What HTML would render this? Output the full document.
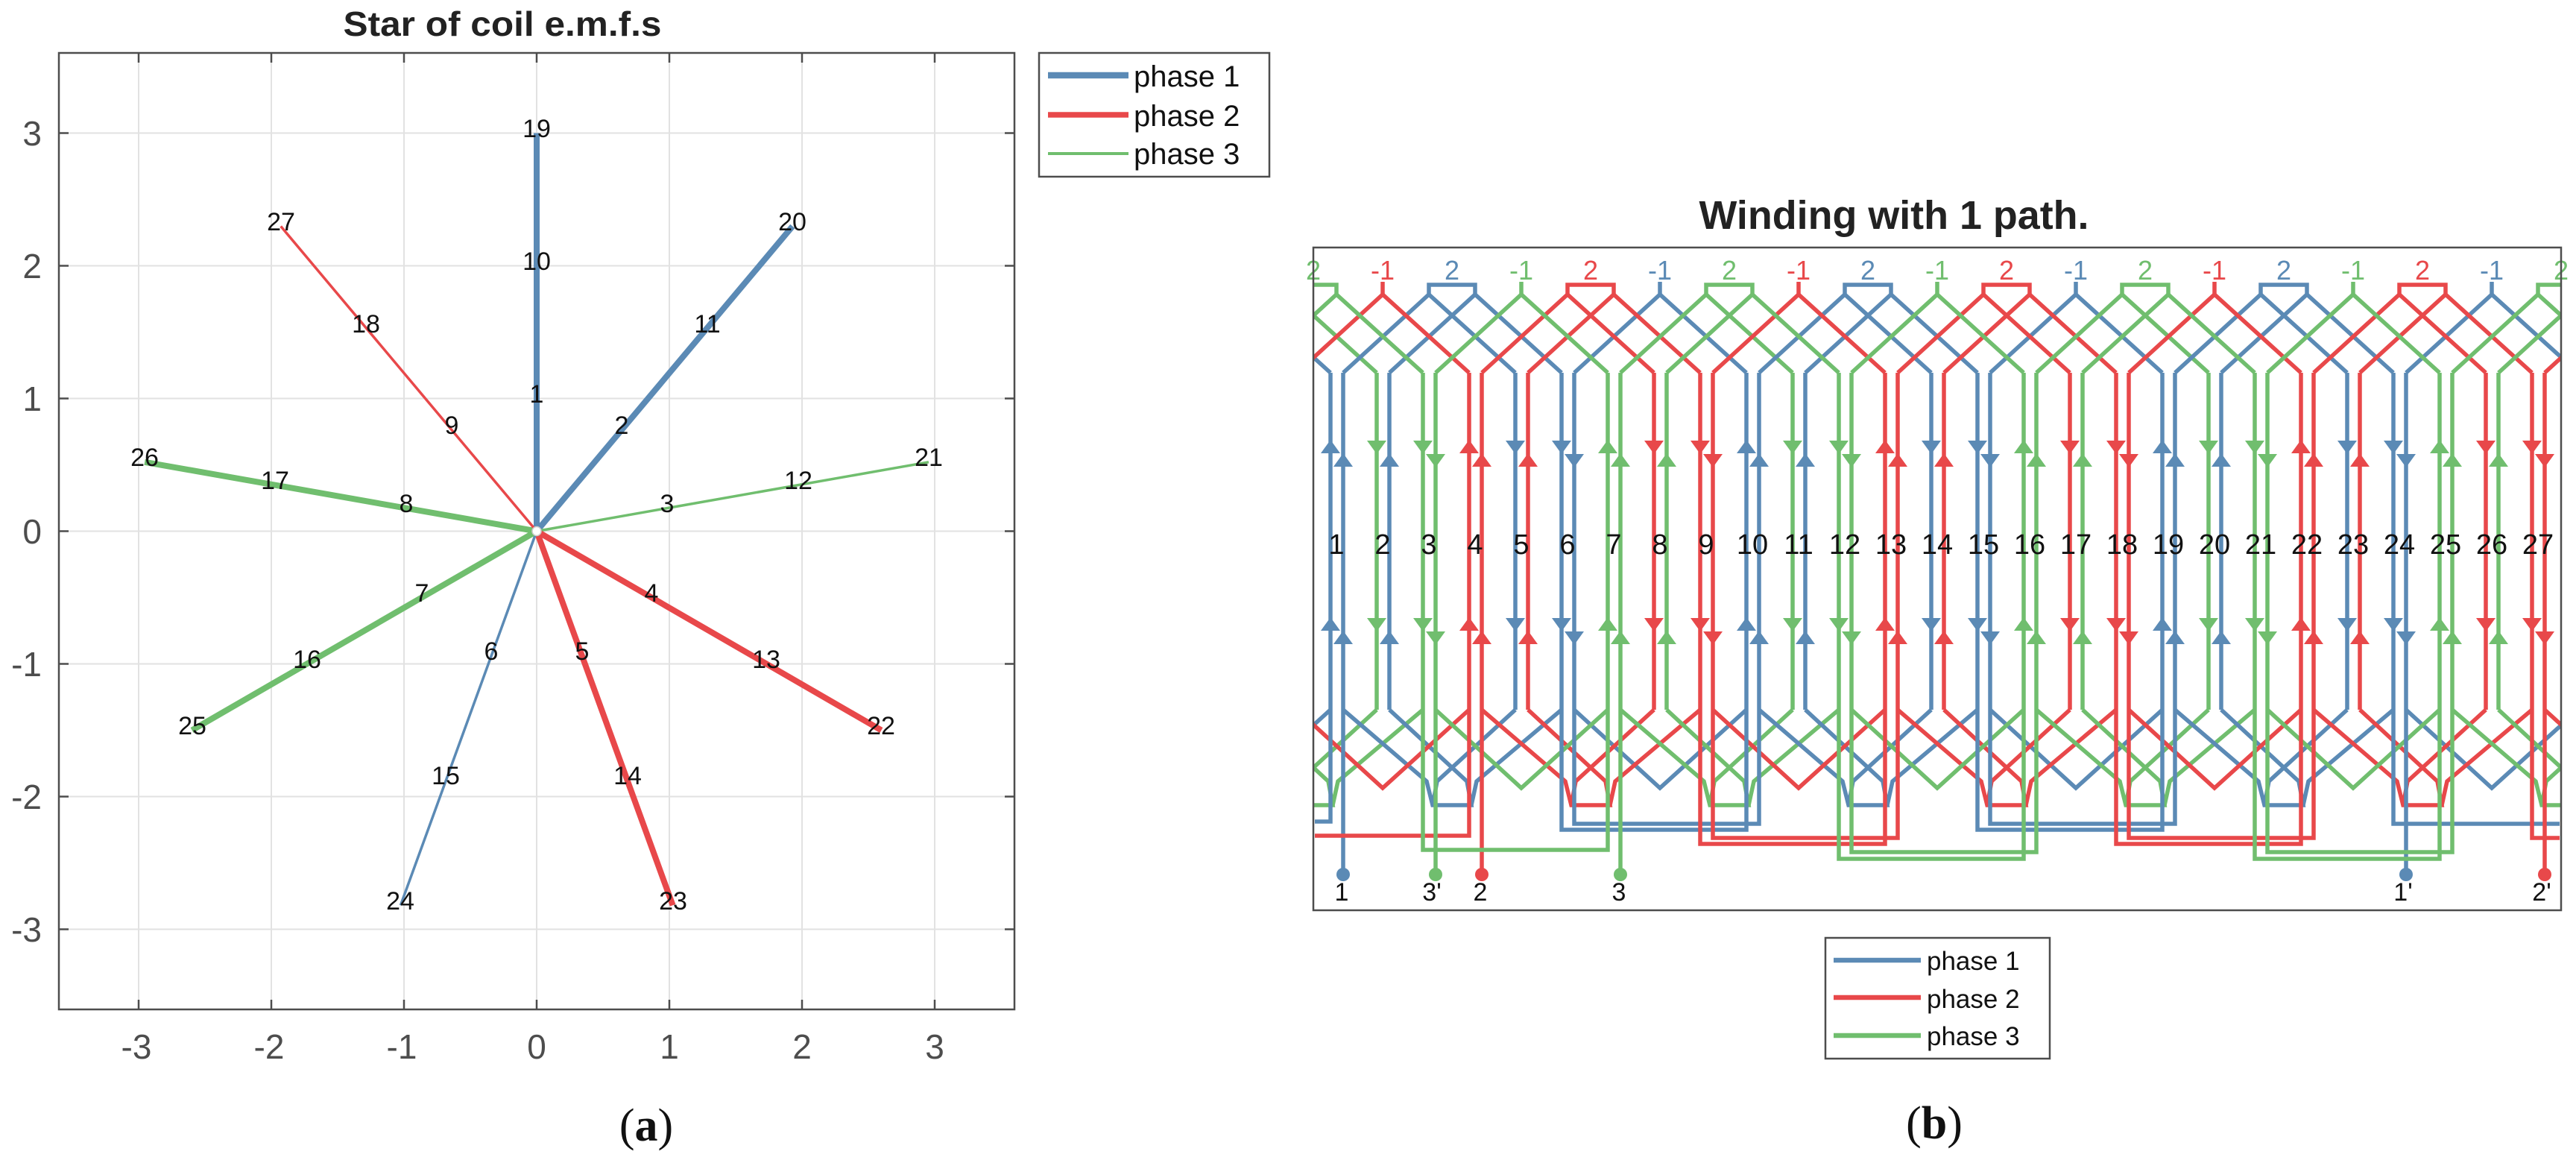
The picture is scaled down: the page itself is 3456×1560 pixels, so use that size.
<!DOCTYPE html>
<html><head><meta charset="utf-8"><style>
html,body{margin:0;padding:0;background:#fff}
svg{display:block}
text{font-family:"Liberation Sans",sans-serif}
</style></head><body>
<svg width="3456" height="1560" viewBox="0 0 3456 1560" xmlns="http://www.w3.org/2000/svg">
<defs>
<clipPath id="ax"><rect x="79" y="71" width="1282" height="1283"/></clipPath>
<clipPath id="wb"><rect x="1762" y="332" width="1674" height="889"/></clipPath>
<path id="au" d="M0,0 L-13,18 L13,18Z"/>
<path id="ad" d="M0,18 L-13,0 L13,0Z"/>
<g id="grp" fill="none" stroke-width="5.5" stroke-linejoin="miter">
 <g stroke="#5b8ab5">
  <path d="M1785,500V952 M1802,500V952 M1864,500V952 M2033,500V952 M2095,500V952 M2112,500V952"/>
  <path d="M1802,500 L1917,395 L2033,500 M1864,500 L1979,395 L2095,500 M2112,500 L2227,395 L2343,500"/>
  <path d="M1917,395V382H1979V395 M2227,395V378"/>
  <path d="M1802,952 L1914,1048 L1922,1080 L1974,1080 L1968,1048 L1864,952 M2033,952 L1928,1048 L1922,1080 M2095,952 L1981,1048 L1974,1080 M2112,952 L2227,1057 L2343,952"/>
 </g>
 <g stroke="#e8484a">
  <path d="M1971,500V952 M1988,500V952 M2050,500V952 M2219,500V952 M2281,500V952 M2298,500V952"/>
  <path d="M1740,500 L1855,395 L1971,500 M1988,500 L2103,395 L2219,500 M2050,500 L2165,395 L2281,500"/>
  <path d="M2103,395V382H2165V395 M1855,395V378"/>
  <path d="M1740,952 L1855,1057 L1971,952 M1988,952 L2100,1048 L2108,1080 L2160,1080 L2154,1048 L2050,952 M2219,952 L2114,1048 L2108,1080 M2281,952 L2167,1048 L2160,1080"/>
 </g>
 <g stroke="#70be6e">
  <path d="M1847,500V952 M1909,500V952 M1926,500V952 M2157,500V952 M2174,500V952 M2236,500V952"/>
  <path d="M1678,500 L1793,395 L1909,500 M1926,500 L2041,395 L2157,500 M2174,500 L2289,395 L2405,500"/>
  <path d="M2289,395V382H2351V395 M2041,395V378"/>
  <path d="M1926,952 L2041,1057 L2157,952 M2174,952 L2286,1048 L2294,1080 L2346,1080 L2340,1048 L2236,952 M2405,952 L2300,1048 L2294,1080 M2467,952 L2353,1048 L2346,1080"/>
 </g>
 <g stroke="none">
  <use href="#au" x="1785" y="590" fill="#5b8ab5"/><use href="#au" x="1802" y="608" fill="#5b8ab5"/>
  <use href="#ad" x="1847" y="591" fill="#70be6e"/><use href="#au" x="1864" y="608" fill="#5b8ab5"/>
  <use href="#ad" x="1909" y="591" fill="#70be6e"/><use href="#ad" x="1926" y="609" fill="#70be6e"/>
  <use href="#au" x="1971" y="590" fill="#e8484a"/><use href="#au" x="1988" y="608" fill="#e8484a"/>
  <use href="#ad" x="2033" y="591" fill="#5b8ab5"/><use href="#au" x="2050" y="608" fill="#e8484a"/>
  <use href="#ad" x="2095" y="591" fill="#5b8ab5"/><use href="#ad" x="2112" y="609" fill="#5b8ab5"/>
  <use href="#au" x="2157" y="590" fill="#70be6e"/><use href="#au" x="2174" y="608" fill="#70be6e"/>
  <use href="#ad" x="2219" y="591" fill="#e8484a"/><use href="#au" x="2236" y="608" fill="#70be6e"/>
  <use href="#ad" x="2281" y="591" fill="#e8484a"/><use href="#ad" x="2298" y="609" fill="#e8484a"/>

  <use href="#au" x="1785" y="828" fill="#5b8ab5"/><use href="#au" x="1802" y="846" fill="#5b8ab5"/>
  <use href="#ad" x="1847" y="829" fill="#70be6e"/><use href="#au" x="1864" y="846" fill="#5b8ab5"/>
  <use href="#ad" x="1909" y="829" fill="#70be6e"/><use href="#ad" x="1926" y="847" fill="#70be6e"/>
  <use href="#au" x="1971" y="828" fill="#e8484a"/><use href="#au" x="1988" y="846" fill="#e8484a"/>
  <use href="#ad" x="2033" y="829" fill="#5b8ab5"/><use href="#au" x="2050" y="846" fill="#e8484a"/>
  <use href="#ad" x="2095" y="829" fill="#5b8ab5"/><use href="#ad" x="2112" y="847" fill="#5b8ab5"/>
  <use href="#au" x="2157" y="828" fill="#70be6e"/><use href="#au" x="2174" y="846" fill="#70be6e"/>
  <use href="#ad" x="2219" y="829" fill="#e8484a"/><use href="#au" x="2236" y="846" fill="#70be6e"/>
  <use href="#ad" x="2281" y="829" fill="#e8484a"/><use href="#ad" x="2298" y="847" fill="#e8484a"/>
 </g>
</g>
</defs>

<!-- ============ LEFT: star ============ -->
<text x="674" y="48" font-size="46" font-weight="bold" text-anchor="middle" fill="#222" textLength="427" lengthAdjust="spacingAndGlyphs">Star of coil e.m.f.s</text>
<rect x="79" y="71" width="1282" height="1283" fill="#fff"/>
<g stroke="#e2e2e2" stroke-width="2">
 <path d="M186,71V1354 M364,71V1354 M542,71V1354 M720,71V1354 M898,71V1354 M1076,71V1354 M1254,71V1354"/>
 <path d="M79,178.5H1361 M79,356.5H1361 M79,534.5H1361 M79,712.5H1361 M79,890.5H1361 M79,1068.5H1361 M79,1246.5H1361"/>
</g>
<g stroke="#4d4d4d" stroke-width="2.5">
 <path d="M186,1354v-13 M364,1354v-13 M542,1354v-13 M720,1354v-13 M898,1354v-13 M1076,1354v-13 M1254,1354v-13"/>
 <path d="M186,71v13 M364,71v13 M542,71v13 M720,71v13 M898,71v13 M1076,71v13 M1254,71v13"/>
 <path d="M79,178.5h13 M79,356.5h13 M79,534.5h13 M79,712.5h13 M79,890.5h13 M79,1068.5h13 M79,1246.5h13"/>
 <path d="M1361,178.5h-13 M1361,356.5h-13 M1361,534.5h-13 M1361,712.5h-13 M1361,890.5h-13 M1361,1068.5h-13 M1361,1246.5h-13"/>
</g>
<g clip-path="url(#ax)" stroke-linecap="butt">
 <path d="M720,712.5L720,178.5" stroke="#5b8ab5" stroke-width="8"/>
 <path d="M720,712.5L1063.3,303.5" stroke="#5b8ab5" stroke-width="8"/>
 <path d="M720,712.5L1245.9,619.8" stroke="#70be6e" stroke-width="3.5"/>
 <path d="M720,712.5L1182.4,979.5" stroke="#e8484a" stroke-width="8"/>
 <path d="M720,712.5L902.6,1214.3" stroke="#e8484a" stroke-width="8"/>
 <path d="M720,712.5L537.4,1214.3" stroke="#5b8ab5" stroke-width="3.5"/>
 <path d="M720,712.5L257.6,979.5" stroke="#70be6e" stroke-width="8"/>
 <path d="M720,712.5L194.1,619.8" stroke="#70be6e" stroke-width="8"/>
 <path d="M720,712.5L376.7,303.5" stroke="#e8484a" stroke-width="3.5"/>
 <circle cx="720" cy="712.5" r="6" fill="#fff" stroke="#ccc" stroke-width="1.5"/>
</g>
<g font-size="34" fill="#111" text-anchor="middle">
 <text x="720" y="540">1</text><text x="720" y="362">10</text><text x="720" y="184">19</text>
 <text x="834" y="582">2</text><text x="949" y="446">11</text><text x="1063" y="309">20</text>
 <text x="895" y="687">3</text><text x="1071" y="656">12</text><text x="1246" y="625">21</text>
 <text x="874" y="807">4</text><text x="1028" y="896">13</text><text x="1182" y="985">22</text>
 <text x="781" y="885">5</text><text x="842" y="1052">14</text><text x="903" y="1220">23</text>
 <text x="659" y="885">6</text><text x="598" y="1052">15</text><text x="537" y="1220">24</text>
 <text x="566" y="807">7</text><text x="412" y="896">16</text><text x="258" y="985">25</text>
 <text x="545" y="687">8</text><text x="369" y="656">17</text><text x="194" y="625">26</text>
 <text x="606" y="582">9</text><text x="491" y="446">18</text><text x="377" y="309">27</text>
</g>
<rect x="79" y="71" width="1282" height="1283" fill="none" stroke="#4d4d4d" stroke-width="2.5"/>
<g font-size="46" fill="#4d4d4d" text-anchor="middle">
 <text x="183" y="1420">-3</text><text x="361" y="1420">-2</text><text x="539" y="1420">-1</text><text x="720" y="1420">0</text><text x="898" y="1420">1</text><text x="1076" y="1420">2</text><text x="1254" y="1420">3</text>
</g>
<g font-size="46" fill="#4d4d4d" text-anchor="end">
 <text x="56" y="195">3</text><text x="56" y="373">2</text><text x="56" y="551">1</text><text x="56" y="729">0</text><text x="56" y="907">-1</text><text x="56" y="1085">-2</text><text x="56" y="1263">-3</text>
</g>
<rect x="1394" y="71" width="309" height="166" fill="#fff" stroke="#4d4d4d" stroke-width="2.5"/>
<path d="M1406,101H1514" stroke="#5b8ab5" stroke-width="8.5"/>
<path d="M1406,154H1514" stroke="#e8484a" stroke-width="7.5"/>
<path d="M1406,206H1514" stroke="#70be6e" stroke-width="4"/>
<g font-size="40" fill="#111"><text x="1521" y="116">phase 1</text><text x="1521" y="169">phase 2</text><text x="1521" y="220">phase 3</text></g>
<text x="867" y="1530" font-size="62" text-anchor="middle" fill="#111" style="font-family:'Liberation Serif',serif">(<tspan font-weight="bold">a</tspan>)</text>

<!-- ============ RIGHT: winding ============ -->
<text x="2541" y="307" font-size="54" font-weight="bold" text-anchor="middle" fill="#222" textLength="523" lengthAdjust="spacingAndGlyphs">Winding with 1 path.</text>
<rect x="1762" y="332" width="1674" height="889" fill="#fff"/>
<g clip-path="url(#wb)">
 <use href="#grp" x="-558"/>
 <use href="#grp" x="0"/>
 <use href="#grp" x="558"/>
 <use href="#grp" x="1116"/>
 <use href="#grp" x="1674"/>
</g>
<g fill="none" stroke-width="5.5">
 <path stroke="#5b8ab5" d="M1785,952V1102H1764 M3211,952V1105H3434 M1802,952V1173 M3228,952V1173 M2095,952V1113H2343V952 M2112,952V1105H2360V952 M2653,952V1113H2901V952 M2670,952V1105H2918V952"/>
 <path stroke="#e8484a" d="M1971,952V1121H1764 M3397,952V1124H3434 M1988,952V1173 M3414,952V1173 M2281,952V1132H2529V952 M2298,952V1124H2546V952 M2839,952V1132H3087V952 M2856,952V1124H3104V952"/>
 <path stroke="#70be6e" d="M1909,952V1140H2157V952 M1926,952V1173 M2174,952V1173 M2467,952V1152H2715V952 M2484,952V1143H2732V952 M3025,952V1152H3273V952 M3042,952V1143H3290V952"/>
</g>
<circle cx="1802" cy="1173" r="9" fill="#5b8ab5"/><circle cx="3228" cy="1173" r="9" fill="#5b8ab5"/>
<circle cx="1988" cy="1173" r="9" fill="#e8484a"/><circle cx="3414" cy="1173" r="9" fill="#e8484a"/>
<circle cx="1926" cy="1173" r="9" fill="#70be6e"/><circle cx="2174" cy="1173" r="9" fill="#70be6e"/>
<g font-size="34" fill="#111" text-anchor="middle">
 <text x="1800" y="1208">1</text><text x="1921" y="1208">3'</text><text x="1986" y="1208">2</text><text x="2172" y="1208">3</text><text x="3224" y="1208">1'</text><text x="3410" y="1208">2'</text>
</g>
<g font-size="36" text-anchor="middle">
 <text x="1762" y="375" fill="#70be6e">2</text>
 <text x="1855" y="375" fill="#e8484a">-1</text><text x="1948" y="375" fill="#5b8ab5">2</text><text x="2041" y="375" fill="#70be6e">-1</text><text x="2134" y="375" fill="#e8484a">2</text><text x="2227" y="375" fill="#5b8ab5">-1</text><text x="2320" y="375" fill="#70be6e">2</text>
 <text x="2413" y="375" fill="#e8484a">-1</text><text x="2506" y="375" fill="#5b8ab5">2</text><text x="2599" y="375" fill="#70be6e">-1</text><text x="2692" y="375" fill="#e8484a">2</text><text x="2785" y="375" fill="#5b8ab5">-1</text><text x="2878" y="375" fill="#70be6e">2</text>
 <text x="2971" y="375" fill="#e8484a">-1</text><text x="3064" y="375" fill="#5b8ab5">2</text><text x="3157" y="375" fill="#70be6e">-1</text><text x="3250" y="375" fill="#e8484a">2</text><text x="3343" y="375" fill="#5b8ab5">-1</text><text x="3436" y="375" fill="#70be6e">2</text>
</g>
<g font-size="38" fill="#111" text-anchor="middle">
 <text x="1793" y="743">1</text><text x="1855" y="743">2</text><text x="1917" y="743">3</text><text x="1979" y="743">4</text><text x="2041" y="743">5</text><text x="2103" y="743">6</text><text x="2165" y="743">7</text><text x="2227" y="743">8</text><text x="2289" y="743">9</text>
 <text x="2351" y="743">10</text><text x="2413" y="743">11</text><text x="2475" y="743">12</text><text x="2537" y="743">13</text><text x="2599" y="743">14</text><text x="2661" y="743">15</text><text x="2723" y="743">16</text><text x="2785" y="743">17</text><text x="2847" y="743">18</text>
 <text x="2909" y="743">19</text><text x="2971" y="743">20</text><text x="3033" y="743">21</text><text x="3095" y="743">22</text><text x="3157" y="743">23</text><text x="3219" y="743">24</text><text x="3281" y="743">25</text><text x="3343" y="743">26</text><text x="3405" y="743">27</text>
</g>
<rect x="1762" y="332" width="1674" height="889" fill="none" stroke="#4d4d4d" stroke-width="2.5"/>
<rect x="2449" y="1258" width="301" height="162" fill="#fff" stroke="#4d4d4d" stroke-width="2.5"/>
<path d="M2460,1288H2577" stroke="#5b8ab5" stroke-width="6.5"/>
<path d="M2460,1338H2577" stroke="#e8484a" stroke-width="6.5"/>
<path d="M2460,1389H2577" stroke="#70be6e" stroke-width="6.5"/>
<g font-size="35" fill="#111"><text x="2585" y="1301">phase 1</text><text x="2585" y="1352">phase 2</text><text x="2585" y="1402">phase 3</text></g>
<text x="2595" y="1527" font-size="62" text-anchor="middle" fill="#111" style="font-family:'Liberation Serif',serif">(<tspan font-weight="bold">b</tspan>)</text>
</svg>
</body></html>
